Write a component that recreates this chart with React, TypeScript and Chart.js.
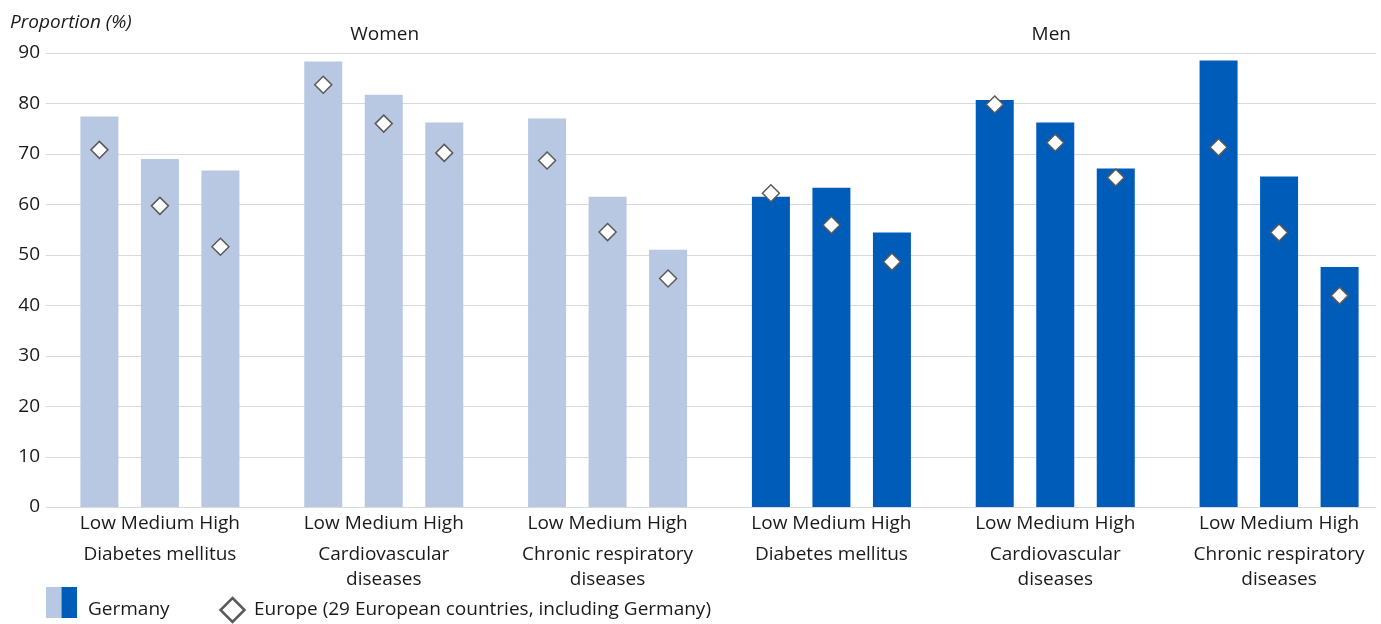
import React, { useEffect, useRef } from "react";
import { Chart, registerables } from "chart.js";

Chart.register(...registerables);

// ---- data ----
const sexes = ["Women", "Women", "Women", "Men", "Men", "Men"];
const groupLabels: string[][] = [
  ["Diabetes mellitus"],
  ["Cardiovascular", "diseases"],
  ["Chronic respiratory", "diseases"],
  ["Diabetes mellitus"],
  ["Cardiovascular", "diseases"],
  ["Chronic respiratory", "diseases"],
];
const levels = ["Low", "Medium", "High"];

const germanyLow = [77.4, 88.3, 77.0, 61.5, 80.7, 88.5];
const germanyMedium = [69.0, 81.7, 61.5, 63.3, 76.2, 65.5];
const germanyHigh = [66.7, 76.2, 51.0, 54.4, 67.1, 47.6];

const europeLow = [70.8, 83.7, 68.7, 62.2, 79.8, 71.3];
const europeMedium = [59.7, 76.0, 54.5, 55.9, 72.2, 54.4];
const europeHigh = [51.6, 70.2, 45.3, 48.6, 65.3, 41.9];

const yTicks = [0, 10, 20, 30, 40, 50, 60, 70, 80, 90];

const seriesLabels = ["Germany", "Europe (29 European countries, including Germany)"];
const headerLabels = ["Women", "Men"];
const yTitle = "Proportion (%)";

// ---- styles ----
const WOMEN = "#b8c8e2";
const MEN = "#005cb9";
const FONT = "'Open Sans', sans-serif";
const TEXT = "#1a1a1a";
const FS = 19;
const GRID_LEFT = 46;
const GRID_RIGHT = 1376;
const CANVAS_W = 1391;

function drawDiamond(ctx: CanvasRenderingContext2D, x: number, y: number, r: number, lw: number) {
  ctx.save();
  ctx.beginPath();
  ctx.moveTo(x, y - r);
  ctx.lineTo(x + r, y);
  ctx.lineTo(x, y + r);
  ctx.lineTo(x - r, y);
  ctx.closePath();
  ctx.fillStyle = "#ffffff";
  ctx.fill();
  ctx.lineWidth = lw;
  ctx.strokeStyle = "#5a5a5a";
  ctx.stroke();
  ctx.restore();
}

const overlayPlugin = {
  id: "overlay",
  beforeDatasetsDraw(chart: any) {
    const ctx = chart.ctx as CanvasRenderingContext2D;
    const y = chart.scales.y;
    ctx.save();
    ctx.strokeStyle = "#d9d9d9";
    ctx.lineWidth = 1;
    yTicks.forEach((v) => {
      const py = Math.round(y.getPixelForValue(v)) + 0.5;
      ctx.beginPath();
      ctx.moveTo(GRID_LEFT, py);
      ctx.lineTo(GRID_RIGHT, py);
      ctx.stroke();
    });
    ctx.restore();
  },
  afterDatasetsDraw(chart: any) {
    const ctx = chart.ctx as CanvasRenderingContext2D;
    const y = chart.scales.y;
    const europe = [europeLow, europeMedium, europeHigh];
    europe.forEach((vals, di) => {
      const meta = chart.getDatasetMeta(di);
      meta.data.forEach((el: any, i: number) => {
        drawDiamond(ctx, el.x, y.getPixelForValue(vals[i]), 8.5, 1.5);
      });
    });
  },
  afterDraw(chart: any) {
    const ctx = chart.ctx as CanvasRenderingContext2D;
    const x = chart.scales.x;
    ctx.save();
    ctx.fillStyle = TEXT;
    ctx.textBaseline = "middle";
    // y title
    ctx.font = `italic ${FS}px ${FONT}`;
    ctx.textAlign = "left";
    ctx.fillText(yTitle, 10, 23);
    // headers
    ctx.font = `${FS}px ${FONT}`;
    ctx.textAlign = "center";
    ctx.fillText(headerLabels[0], x.getPixelForValue(1) + 1, 35);
    ctx.fillText(headerLabels[1], x.getPixelForValue(4) - 4, 35);
    // legend
    ctx.fillStyle = WOMEN;
    ctx.fillRect(46, 587, 15.5, 31);
    ctx.fillStyle = MEN;
    ctx.fillRect(61.5, 587, 15.5, 31);
    ctx.fillStyle = TEXT;
    ctx.textAlign = "left";
    ctx.fillText(seriesLabels[0], 88, 610);
    drawDiamond(ctx, 232.5, 610, 12, 2.5);
    ctx.fillStyle = TEXT;
    ctx.fillText(seriesLabels[1], 254, 610);
    ctx.restore();
  },
};

export default function App() {
  const ref = useRef<HTMLCanvasElement | null>(null);
  useEffect(() => {
    if (!ref.current) return;
    const colors = sexes.map((s) => (s === "Women" ? WOMEN : MEN));
    const germany = [germanyLow, germanyMedium, germanyHigh];
    const chart = new Chart(ref.current, {
      type: "bar",
      data: {
        labels: groupLabels.map(() => levels.join(" ")),
        datasets: germany.map((vals, i) => ({
          label: levels[i],
          data: vals,
          backgroundColor: colors,
          borderWidth: 0,
          categoryPercentage: 0.811,
          barPercentage: 0.628,
        })),
      },
      options: {
        responsive: false,
        animation: false,
        layout: { padding: { top: 53, right: 0, bottom: 33, left: 0 } },
        plugins: { legend: { display: false }, tooltip: { enabled: false } },
        scales: {
          x: {
            type: "category",
            offset: true,
            weight: 0,
            grid: { display: false, drawTicks: false },
            border: { display: false },
            ticks: {
              color: TEXT,
              font: { family: FONT, size: FS },
              padding: 5,
              autoSkip: false,
              maxRotation: 0,
              minRotation: 0,
            },
            afterFit: (s: any) => {
              s.height = 26;
            },
          },
          x2: {
            type: "category",
            position: "bottom",
            labels: groupLabels as any,
            offset: true,
            weight: 1,
            grid: { display: false, drawTicks: false },
            border: { display: false },
            ticks: {
              color: TEXT,
              font: { family: FONT, size: FS, lineHeight: 25 / FS },
              padding: 9,
              autoSkip: false,
              maxRotation: 0,
              minRotation: 0,
            },
            afterFit: (s: any) => {
              s.height = 58;
            },
          },
          y: {
            min: 0,
            max: 90,
            afterBuildTicks: (s: any) => {
              s.ticks = yTicks.map((v) => ({ value: v }));
            },
            grid: { display: false, drawTicks: false },
            border: { display: false },
            ticks: {
              color: TEXT,
              font: { family: FONT, size: FS },
              padding: 8,
            },
            afterFit: (s: any) => {
              s.width = 48;
            },
          },
        },
      },
      plugins: [overlayPlugin],
    });
    return () => chart.destroy();
  }, []);
  return (
    <div
      style={{
        position: "fixed",
        left: 0,
        top: 0,
        width: 1381,
        height: 624,
        overflow: "hidden",
        background: "#ffffff",
      }}
    >
      <canvas ref={ref} width={CANVAS_W} height={624} style={{ display: "block" }} />
    </div>
  );
}
